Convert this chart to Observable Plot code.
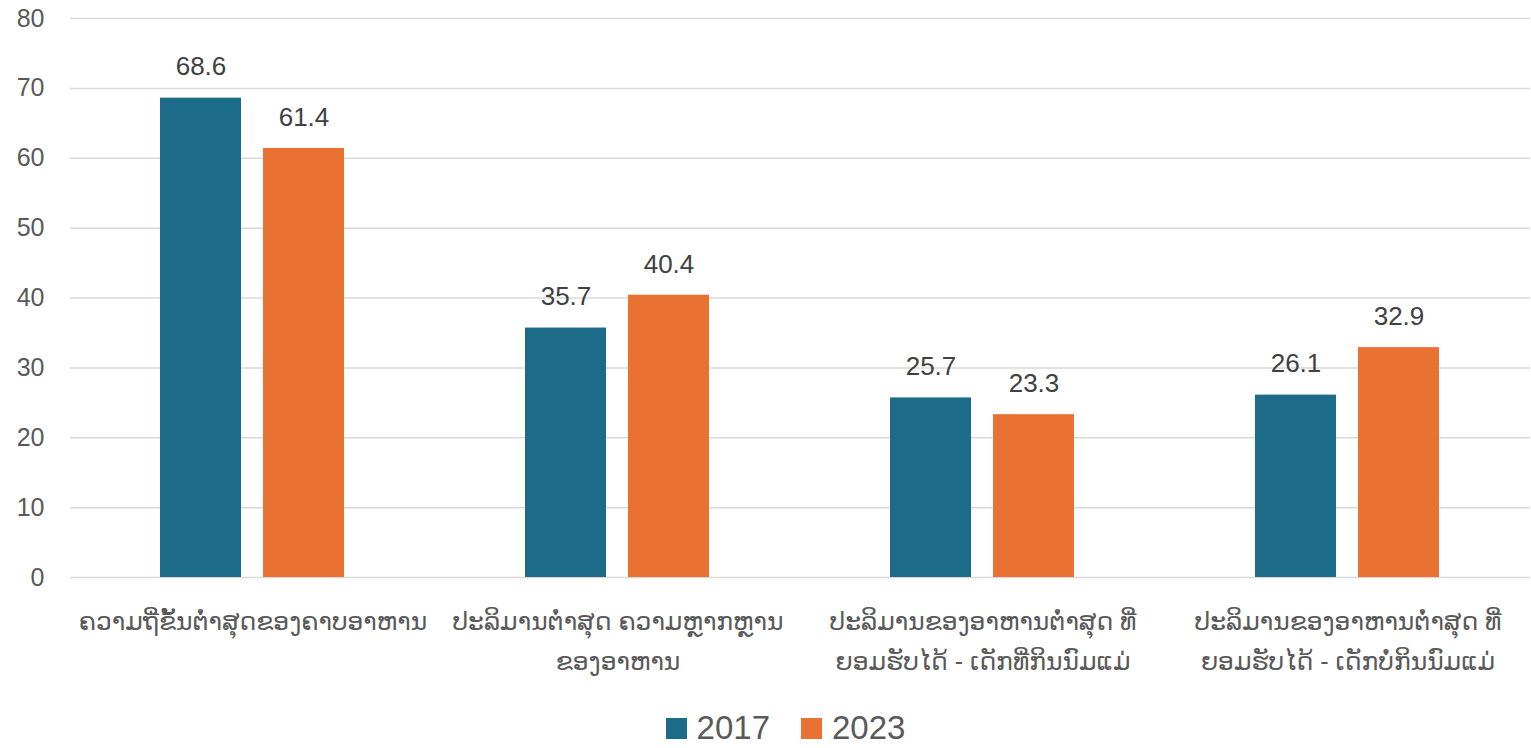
<!DOCTYPE html>
<html>
<head>
<meta charset="utf-8">
<script src="https://cdn.jsdelivr.net/npm/d3@7"></script>
<script src="https://cdn.jsdelivr.net/npm/@observablehq/plot@0.6"></script>
<style>
  body { margin: 0; background: #fff; font-family: "Liberation Sans", "DejaVu Sans", sans-serif; }
  #legend { display: flex; justify-content: center; align-items: center; gap: 31px; height: 48px; padding-top: 4px; margin-left: 40px; font-size: 33px; color: #595959; }
  #legend .item { display: flex; align-items: center; gap: 10px; }
  #legend .sw { width: 21px; height: 21px; display: inline-block; }
</style>
</head>
<body>
<div id="chart"></div>
<div id="legend"></div>
<script>
const categories = [
  "ຄວາມຖີ່ຂັ້ນຕ່ຳສຸດຂອງຄາບອາຫານ",
  "ປະລິມານຕ່ຳສຸດ ຄວາມຫຼາກຫຼານ\nຂອງອາຫານ",
  "ປະລິມານຂອງອາຫານຕ່ຳສຸດ ທີ່\nຍອມຮັບໄດ້ - ເດັກທີ່ກິນນົມແມ່",
  "ປະລິມານຂອງອາຫານຕ່ຳສຸດ ທີ່\nຍອມຮັບໄດ້ - ເດັກບໍ່ກິນນົມແມ່"
];
const years = ["2017", "2023"];
const values2017 = [68.6, 35.7, 25.7, 26.1];
const values2023 = [61.4, 40.4, 23.3, 32.9];
const yTicks = [0, 10, 20, 30, 40, 50, 60, 70, 80];
const colors = ["#1b6b89", "#e97132"];

const data = [];
categories.forEach((c, i) => {
  data.push({category: c, year: years[0], value: values2017[i]});
  data.push({category: c, year: years[1], value: values2023[i]});
});

const chart = Plot.plot({
  width: 1531,
  height: 700,
  marginLeft: 69,
  marginRight: 0,
  marginTop: 18,
  marginBottom: 123,
  style: {fontFamily: '"Liberation Sans", "DejaVu Sans", sans-serif', color: "#595959", background: "#fff"},
  fx: {domain: categories, padding: 0, label: null, axis: null},
  x: {domain: years, paddingInner: 0.2115, paddingOuter: 0.863, axis: null},
  y: {domain: [0, 80], axis: null},
  color: {domain: years, range: colors},
  marks: [
    Plot.ruleY(yTicks, {stroke: "#d9d9d9", strokeWidth: 1.5}),
    Plot.barY(data, {fx: "category", x: "year", y: "value", fill: "year"}),
    Plot.text(data, {fx: "category", x: "year", y: "value", text: d => d.value.toFixed(1), dy: -31, fontSize: 26, fill: "#404040"}),
    Plot.axisY({ticks: yTicks, tickSize: 0, tickPadding: 26, fontSize: 25, label: null}),
    Plot.axisFx({anchor: "bottom", tickSize: 0, tickPadding: 24, fontSize: 25, lineHeight: 1.6, lineAnchor: "top", label: null})
  ]
});
document.getElementById("chart").appendChild(chart);

const legend = document.getElementById("legend");
years.forEach((y, i) => {
  const item = document.createElement("div");
  item.className = "item";
  const sw = document.createElement("span");
  sw.className = "sw";
  sw.style.background = colors[i];
  const t = document.createElement("span");
  t.textContent = y;
  item.appendChild(sw);
  item.appendChild(t);
  legend.appendChild(item);
});
</script>
</body>
</html>
